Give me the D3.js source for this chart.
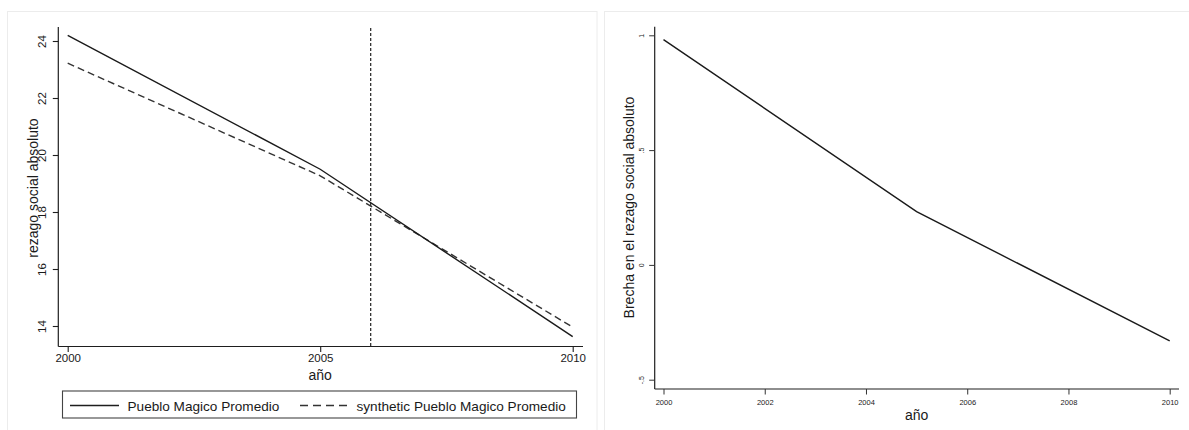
<!DOCTYPE html>
<html><head><meta charset="utf-8">
<script src="https://cdn.jsdelivr.net/npm/d3@7"></script>
<style>
html,body{margin:0;padding:0;background:#fff;}
text{font-family:"Liberation Sans",Arial,Helvetica,sans-serif;fill:#1a1a1a;}
</style></head>
<body>
<svg id="c" width="1189" height="430"></svg>
<script>
// ---- data ----
const years = [2000, 2005, 2010];
const treated = [24.2, 19.5, 13.63];
const synthetic = [23.22, 19.27, 13.96];
const gap = [0.981, 0.232, -0.331];
const treatmentYear = 2006;
const leftXTicks = [2000, 2005, 2010];
const leftYTicks = [14, 16, 18, 20, 22, 24];
const rightXTicks = [2000, 2002, 2004, 2006, 2008, 2010];
const rightYTicks = [-0.5, 0, 0.5, 1];
const rightYLabels = ["-.5", "0", ".5", "1"];
const legendLabels = ["Pueblo Magico Promedio", "synthetic Pueblo Magico Promedio"];
const xTitle = "año";
const leftYTitle = "rezago social absoluto";
const rightYTitle = "Brecha en el rezago social absoluto";

const svg = d3.select("#c");
const ink = "#1e1e1e";

// panel frames
svg.append("rect").attr("x", 7.5).attr("y", 11.5).attr("width", 589.5).attr("height", 430)
  .attr("fill", "none").attr("stroke", "#ececec");
svg.append("rect").attr("x", 604.5).attr("y", 11.5).attr("width", 600).attr("height", 430)
  .attr("fill", "none").attr("stroke", "#ececec");

// ===== LEFT PANEL =====
const xL = d3.scaleLinear().domain([2000, 2010]).range([67.7, 572.7]);
const yL = d3.scaleLinear().domain([14, 24]).range([326, 41]);
const L = svg.append("g");

L.append("line").attr("x1", 58.3).attr("x2", 58.3).attr("y1", 27).attr("y2", 346.5).attr("stroke", ink).attr("stroke-width", 1.2);
L.append("line").attr("x1", 58.3).attr("x2", 583).attr("y1", 346.5).attr("y2", 346.5).attr("stroke", ink).attr("stroke-width", 1.2);

const yAxL = L.append("g").attr("transform", "translate(58.3,0)")
  .call(d3.axisLeft(yL).tickValues(leftYTicks).tickSize(5.5).tickSizeOuter(0).tickFormat(d3.format("d")));
yAxL.select(".domain").remove();
yAxL.selectAll(".tick line").attr("stroke", ink).attr("stroke-width", 1.1);
yAxL.selectAll(".tick text").attr("x", null).attr("dy", null)
  .attr("transform", "translate(-16,0) rotate(-90)")
  .attr("text-anchor", "middle").attr("dominant-baseline", "central")
  .style("font-size", "11.5px").style("font-family", "Liberation Sans, Arial, sans-serif").attr("fill", ink);

const xAxL = L.append("g").attr("transform", "translate(0,346.5)")
  .call(d3.axisBottom(xL).tickValues(leftXTicks).tickSize(5.5).tickSizeOuter(0).tickFormat(d3.format("d")));
xAxL.select(".domain").remove();
xAxL.selectAll(".tick line").attr("stroke", ink).attr("stroke-width", 1.1);
xAxL.selectAll(".tick text").attr("y", 11).attr("dy", null).attr("dominant-baseline", "central")
  .style("font-size", "11.5px").style("font-family", "Liberation Sans, Arial, sans-serif").attr("fill", ink);

L.append("text").attr("transform", `translate(32.5,188) rotate(-90)`)
  .attr("text-anchor", "middle").attr("dominant-baseline", "central")
  .style("font-size", "14px").text(leftYTitle);
L.append("text").attr("x", xL(2005)).attr("y", 375).attr("text-anchor", "middle").attr("dominant-baseline", "central")
  .style("font-size", "14px").text(xTitle);

L.append("line").attr("x1", xL(treatmentYear)).attr("x2", xL(treatmentYear)).attr("y1", 28).attr("y2", 346)
  .attr("stroke", "#222").attr("stroke-width", 1.2).attr("stroke-dasharray", "3,2");

const lineL = (vals) => d3.line().x((d, i) => xL(years[i])).y(d => yL(d))(vals);
L.append("path").attr("d", lineL(synthetic)).attr("fill", "none").attr("stroke", "#333")
  .attr("stroke-width", 1.4).attr("stroke-dasharray", "7,4");
L.append("path").attr("d", lineL(treated)).attr("fill", "none").attr("stroke", "#1a1a1a").attr("stroke-width", 1.4);

// legend
const lg = L.append("g");
lg.append("rect").attr("x", 62.5).attr("y", 391).attr("width", 514).attr("height", 27)
  .attr("fill", "#fff").attr("stroke", "#444").attr("stroke-width", 1.1);
lg.append("line").attr("x1", 70).attr("x2", 119).attr("y1", 405.5).attr("y2", 405.5).attr("stroke", ink).attr("stroke-width", 1.4);
lg.append("text").attr("x", 127.5).attr("y", 406).attr("dominant-baseline", "central").style("font-size", "13.6px").text(legendLabels[0]);
lg.append("line").attr("x1", 300).attr("x2", 347).attr("y1", 405.5).attr("y2", 405.5).attr("stroke", "#333")
  .attr("stroke-width", 1.4).attr("stroke-dasharray", "8,5");
lg.append("text").attr("x", 356.5).attr("y", 406).attr("dominant-baseline", "central").style("font-size", "13.6px").text(legendLabels[1]);

// ===== RIGHT PANEL =====
const xR = d3.scaleLinear().domain([2000, 2010]).range([663.5, 1169.7]);
const yR = d3.scaleLinear().domain([-0.5, 1]).range([379.7, 35.3]);
const R = svg.append("g");

R.append("line").attr("x1", 654.7).attr("x2", 654.7).attr("y1", 26.7).attr("y2", 389).attr("stroke", ink).attr("stroke-width", 1.2);
R.append("line").attr("x1", 654.7).attr("x2", 1179).attr("y1", 389).attr("y2", 389).attr("stroke", ink).attr("stroke-width", 1.2);

const yAxR = R.append("g").attr("transform", "translate(654.7,0)")
  .call(d3.axisLeft(yR).tickValues(rightYTicks).tickSize(5.5).tickSizeOuter(0)
    .tickFormat((d, i) => rightYLabels[i]));
yAxR.select(".domain").remove();
yAxR.selectAll(".tick line").attr("stroke", "#333").attr("stroke-width", 1);
yAxR.selectAll(".tick text").attr("x", null).attr("dy", null)
  .attr("transform", "translate(-13.5,0) rotate(-90)")
  .attr("text-anchor", "middle").attr("dominant-baseline", "central")
  .style("font-size", "7px").style("font-family", "Liberation Sans, Arial, sans-serif").attr("fill", "#333");

const xAxR = R.append("g").attr("transform", "translate(0,389)")
  .call(d3.axisBottom(xR).tickValues(rightXTicks).tickSize(5.5).tickSizeOuter(0).tickFormat(d3.format("d")));
xAxR.select(".domain").remove();
xAxR.selectAll(".tick line").attr("stroke", "#333").attr("stroke-width", 1);
xAxR.selectAll(".tick text").attr("y", 13).attr("dy", null).attr("dominant-baseline", "central")
  .style("font-size", "7.5px").style("font-family", "Liberation Sans, Arial, sans-serif").attr("fill", "#333");

R.append("text").attr("transform", `translate(628.5,207.5) rotate(-90)`)
  .attr("text-anchor", "middle").attr("dominant-baseline", "central")
  .style("font-size", "14px").text(rightYTitle);
R.append("text").attr("x", xR(2005)).attr("y", 415).attr("text-anchor", "middle").attr("dominant-baseline", "central")
  .style("font-size", "14px").text(xTitle);

R.append("path").attr("d", d3.line().x((d, i) => xR(years[i])).y(d => yR(d))(gap))
  .attr("fill", "none").attr("stroke", "#1a1a1a").attr("stroke-width", 1.4);
</script>
</body></html>
